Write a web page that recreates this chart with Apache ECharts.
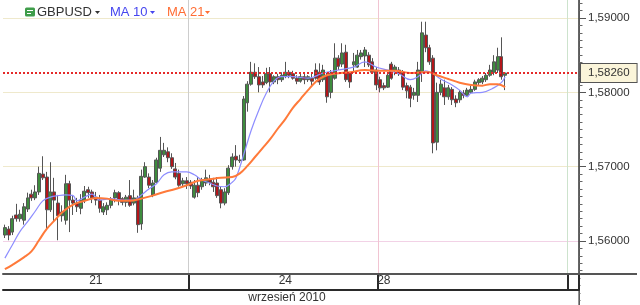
<!DOCTYPE html>
<html><head><meta charset="utf-8">
<script src="https://cdn.jsdelivr.net/npm/echarts/dist/echarts.min.js"></script>
<style>html,body{margin:0;padding:0;background:#fff}#c{width:640px;height:305px}</style>
</head><body><div id="c"></div>
<script>
// ---- data ----
const seriesNames = ['GBPUSD', 'MA 10', 'MA 21'];
// [open, close, low, high]
const ohlc = [
[1.5608,1.5618,1.5604,1.5622],[1.5616,1.5608,1.5601,1.5620],[1.5612,1.5630,1.5608,1.5634],[1.5635,1.5630,1.5626,1.5650],
[1.5630,1.5636,1.5626,1.5642],[1.5628,1.5646,1.5622,1.5651],[1.5643,1.5658,1.5639,1.5665],[1.5663,1.5658,1.5654,1.5669],
[1.5658,1.5666,1.5655,1.5675],[1.5666,1.5691,1.5662,1.5700],[1.5690,1.5685,1.5682,1.5714],[1.5686,1.5642,1.5615,1.5693],
[1.5642,1.5666,1.5639,1.5706],[1.5666,1.5655,1.5626,1.5685],[1.5651,1.5634,1.5601,1.5662],[1.5634,1.5639,1.5626,1.5648],
[1.5628,1.5677,1.5622,1.5689],[1.5677,1.5655,1.5612,1.5681],[1.5655,1.5651,1.5635,1.5662],[1.5651,1.5646,1.5639,1.5658],
[1.5644,1.5655,1.5636,1.5663],[1.5654,1.5667,1.5651,1.5674],[1.5669,1.5665,1.5658,1.5673],[1.5666,1.5658,1.5651,1.5669],
[1.5659,1.5655,1.5648,1.5666],[1.5655,1.5644,1.5638,1.5662],[1.5639,1.5646,1.5635,1.5651],[1.5642,1.5648,1.5635,1.5652],
[1.5648,1.5655,1.5644,1.5659],[1.5658,1.5665,1.5652,1.5669],[1.5665,1.5655,1.5648,1.5667],[1.5657,1.5652,1.5648,1.5659],
[1.5652,1.5659,1.5646,1.5662],[1.5661,1.5648,1.5646,1.5682],[1.5651,1.5658,1.5648,1.5669],[1.5658,1.5622,1.5611,1.5661],
[1.5623,1.5687,1.5615,1.5696],[1.5686,1.5700,1.5685,1.5706],[1.5686,1.5675,1.5671,1.5691],[1.5662,1.5678,1.5659,1.5682],
[1.5679,1.5709,1.5678,1.5712],[1.5698,1.5722,1.5693,1.5740],[1.5716,1.5722,1.5713,1.5732],[1.5720,1.5712,1.5706,1.5726],
[1.5712,1.5700,1.5697,1.5718],[1.5697,1.5686,1.5683,1.5705],[1.5691,1.5675,1.5673,1.5696],[1.5677,1.5681,1.5674,1.5685],
[1.5681,1.5677,1.5670,1.5686],[1.5679,1.5674,1.5670,1.5682],[1.5659,1.5675,1.5657,1.5682],[1.5675,1.5665,1.5659,1.5686],
[1.5673,1.5682,1.5669,1.5685],[1.5678,1.5685,1.5674,1.5696],[1.5683,1.5679,1.5675,1.5689],[1.5679,1.5673,1.5666,1.5685],
[1.5678,1.5661,1.5658,1.5686],[1.5669,1.5651,1.5644,1.5673],[1.5651,1.5666,1.5648,1.5671],[1.5665,1.5698,1.5662,1.5702],
[1.5700,1.5713,1.5696,1.5718],[1.5714,1.5709,1.5700,1.5729],[1.5708,1.5709,1.5705,1.5716],[1.5709,1.5791,1.5708,1.5795],
[1.5786,1.5811,1.5774,1.5815],[1.5811,1.5827,1.5809,1.5841],[1.5827,1.5821,1.5818,1.5839],[1.5821,1.5810,1.5800,1.5834],
[1.5814,1.5810,1.5806,1.5822],[1.5813,1.5825,1.5811,1.5833],[1.5825,1.5814,1.5800,1.5834],[1.5814,1.5821,1.5811,1.5823],
[1.5821,1.5817,1.5811,1.5825],[1.5817,1.5823,1.5814,1.5827],[1.5822,1.5827,1.5819,1.5841],[1.5827,1.5823,1.5819,1.5830],
[1.5825,1.5819,1.5817,1.5829],[1.5819,1.5815,1.5811,1.5823],[1.5815,1.5821,1.5813,1.5825],[1.5821,1.5817,1.5811,1.5825],
[1.5817,1.5821,1.5814,1.5823],[1.5819,1.5815,1.5809,1.5825],[1.5830,1.5819,1.5817,1.5839],[1.5827,1.5814,1.5810,1.5839],
[1.5817,1.5830,1.5814,1.5837],[1.5823,1.5794,1.5786,1.5826],[1.5800,1.5826,1.5792,1.5830],[1.5819,1.5846,1.5817,1.5866],
[1.5846,1.5835,1.5830,1.5850],[1.5838,1.5853,1.5834,1.5866],[1.5854,1.5817,1.5814,1.5864],[1.5826,1.5814,1.5806,1.5827],
[1.5837,1.5841,1.5826,1.5853],[1.5834,1.5850,1.5833,1.5857],[1.5848,1.5853,1.5844,1.5857],[1.5849,1.5857,1.5834,1.5861],
[1.5850,1.5837,1.5834,1.5854],[1.5841,1.5827,1.5826,1.5846],[1.5830,1.5810,1.5803,1.5834],[1.5817,1.5806,1.5800,1.5821],
[1.5809,1.5806,1.5803,1.5813],[1.5807,1.5823,1.5806,1.5826],[1.5838,1.5819,1.5817,1.5841],[1.5830,1.5834,1.5823,1.5837],
[1.5830,1.5825,1.5822,1.5834],[1.5827,1.5807,1.5803,1.5830],[1.5809,1.5802,1.5792,1.5813],[1.5807,1.5792,1.5780,1.5810],
[1.5796,1.5800,1.5790,1.5806],[1.5796,1.5830,1.5787,1.5841],[1.5827,1.5880,1.5814,1.5895],[1.5877,1.5860,1.5854,1.5895],
[1.5860,1.5841,1.5837,1.5864],[1.5846,1.5732,1.5718,1.5850],[1.5733,1.5800,1.5722,1.5813],[1.5800,1.5811,1.5796,1.5817],
[1.5806,1.5794,1.5783,1.5817],[1.5794,1.5806,1.5790,1.5810],[1.5804,1.5790,1.5783,1.5807],[1.5791,1.5786,1.5780,1.5796],
[1.5790,1.5800,1.5786,1.5803],[1.5799,1.5796,1.5792,1.5803],[1.5796,1.5803,1.5794,1.5806],[1.5800,1.5804,1.5798,1.5809],
[1.5804,1.5814,1.5802,1.5817],[1.5813,1.5817,1.5809,1.5819],[1.5814,1.5819,1.5811,1.5822],[1.5817,1.5823,1.5814,1.5826],
[1.5823,1.5830,1.5821,1.5837],[1.5827,1.5841,1.5823,1.5850],[1.5830,1.5848,1.5826,1.5860],[1.5848,1.5821,1.5817,1.5874],
[1.5823,1.5826,1.5803,1.5827]
];
// moving averages: [candle index, value]
const ma10 = [[0,1.5577],[2,1.5595],[4,1.5613],[6,1.5626],[8,1.5640],[10,1.5654],[12,1.5659],[14,1.5661],[16,1.5662],[18,1.5661],[19,1.5654],[21,1.5659],[23,1.5663],[25,1.5655],[28,1.5657],[31,1.5655],[34,1.5655],[36,1.5662],[38,1.5670],[40,1.5677],[42,1.5689],[44,1.5693],[46,1.5693],[48,1.5693],[50,1.5689],[52,1.5682],[54,1.5678],[56,1.5674],[58,1.5673],[60,1.5679],[61,1.5685],[63,1.5716],[65,1.5749],[67,1.5776],[69,1.5799],[71,1.5815],[73,1.5821],[76,1.5821],[80,1.5819],[84,1.5826],[88,1.5830],[92,1.5834],[95,1.5841],[98,1.5834],[101,1.5830],[104,1.5825],[107,1.5817],[109,1.5821],[111,1.5829],[113,1.5825],[115,1.5818],[118,1.5810],[120,1.5803],[122,1.5794],[123,1.5799],[126,1.5800],[129,1.5806],[131,1.5813],[132,1.5821]];
const ma21 = [[0,1.5562],[2,1.5568],[5,1.5578],[7,1.5586],[9,1.5601],[11,1.5616],[13,1.5627],[15,1.5638],[17,1.5646],[19,1.5651],[21,1.5654],[24,1.5658],[27,1.5657],[30,1.5654],[33,1.5654],[36,1.5657],[39,1.5661],[42,1.5666],[45,1.5670],[48,1.5675],[51,1.5681],[54,1.5683],[57,1.5685],[60,1.5686],[62,1.5691],[64,1.5701],[66,1.5713],[68,1.5725],[70,1.5737],[72,1.5751],[74,1.5764],[76,1.5779],[78,1.5791],[80,1.5803],[82,1.5814],[84,1.5821],[87,1.5825],[91,1.5827],[95,1.5830],[99,1.5829],[103,1.5829],[107,1.5826],[110,1.5827],[112,1.5827],[114,1.5823],[117,1.5818],[120,1.5813],[123,1.5810],[126,1.5809],[128,1.5811],[130,1.5811],[132,1.5807]];
const lastPrice = 1.5826;
const yMin = 1.55, yMax = 1.60, yStep = 0.01;
const dayLabels = ['21', '24', '28'];
const dayStarts = [0, 49, 99, 149];   // candle slot where each day cell starts
const monthLabel = 'wrzesień 2010';
const slotCount = 152;
const categories = Array.from({length: slotCount}, (_, i) => String(i));

// ---- chart ----
const font = '"Liberation Sans", Arial, sans-serif';
const fmt = v => v.toFixed(5).replace('.', ',');
const bounds = dayStarts.slice(1);
const labelIdx = dayLabels.map((d, i) => {
  const s = dayStarts[i], e = dayStarts[i + 1];
  return i < dayLabels.length - 1 ? Math.floor((s + e) / 2) : s + 1;
});
const chart = echarts.init(document.getElementById('c'));
const PX = 74.333; // pixels per 0.01
chart.setOption({
  animation: false,
  backgroundColor: '#ffffff',
  grid: [
    {left: 3, right: 61, top: 18 - PX, height: PX * 5, outerBoundsMode: 'none', containLabel: false},
    {left: 3, right: 61, top: 274, height: 16, outerBoundsMode: 'none', containLabel: false}
  ],
  xAxis: [
    {gridIndex: 0, type: 'category', data: categories, boundaryGap: true,
     axisLine: {show: false}, axisTick: {show: false}, axisLabel: {show: false},
     splitLine: {show: true, interval: (i) => bounds.includes(i),
       lineStyle: {color: ['#cdcdcd', '#f1c4d2', '#cde3cd'], width: 1}}},
    {gridIndex: 1, type: 'category', data: categories, boundaryGap: true, position: 'bottom', z: 60,
     axisLine: {show: true, lineStyle: {color: '#2a2a2a', width: 2}},
     axisTick: {show: false},
     axisLabel: {show: true, inside: true, margin: 3, interval: (i) => labelIdx.includes(i),
       formatter: (v, i) => { const k = labelIdx.indexOf(Number(v)); return k >= 0 ? dayLabels[k] : ''; },
       color: '#333', fontSize: 12, fontFamily: font},
     splitLine: {show: true, interval: (i) => bounds.includes(i), lineStyle: {color: '#2a2a2a', width: 2}}},
    {gridIndex: 1, type: 'category', data: categories, position: 'top', z: 60,
     axisLine: {show: true, lineStyle: {color: '#555', width: 2}},
     axisTick: {show: false}, axisLabel: {show: false}, splitLine: {show: false}}
  ],
  yAxis: [
    {gridIndex: 0, type: 'value', position: 'right', min: yMin, max: yMax, interval: yStep, scale: true,
     axisLine: {show: true, lineStyle: {color: '#333', width: 1.5}},
     axisTick: {show: true, length: 7, lineStyle: {color: '#555'}},
     minorTick: {show: true, splitNumber: 10, length: 3.5, lineStyle: {color: '#666'}},
     axisLabel: {margin: 9, color: '#333', fontSize: 11.5, fontFamily: font, formatter: fmt, hideOverlap: false},
     splitLine: {show: true, lineStyle: {color: ['#ffffff', '#f2d2e6', '#efe9cc', '#efe9cc', '#efe9cc', '#ffffff'], width: 1}}},
    {gridIndex: 1, type: 'value', show: false}
  ],
  graphic: {elements: [
    {type: 'rect', z: 50, silent: true, shape: {x: 0, y: 275, width: 578.3, height: 30}, style: {fill: '#fff'}},
    {type: 'rect', z: 50, silent: true, shape: {x: 580.5, y: 275, width: 60, height: 30}, style: {fill: '#fff'}},
    {type: 'line', z: 61, silent: true, shape: {x1: 579, y1: 274, x2: 637, y2: 274}, style: {stroke: '#555', lineWidth: 2}},
    {type: 'text', z: 70, style: {text: monthLabel, x: 287, y: 298, align: 'center', verticalAlign: 'middle', font: '12px ' + font, fill: '#333'}},
    {type: 'rect', z: 70, shape: {x: 25, y: 7.5, width: 10, height: 9, r: 1.5}, style: {fill: '#3f9d4a'}},
    {type: 'line', z: 71, shape: {x1: 27, y1: 10.5, x2: 33, y2: 10.5}, style: {stroke: '#fff', lineWidth: 1}},
    {type: 'line', z: 71, shape: {x1: 27, y1: 13.5, x2: 31, y2: 13.5}, style: {stroke: '#fff', lineWidth: 1}},
    {type: 'text', z: 70, style: {text: seriesNames[0], x: 37, y: 12.5, verticalAlign: 'middle', font: '13px ' + font, fill: '#333'}},
    {type: 'polygon', z: 70, shape: {points: [[95, 11], [100, 11], [97.5, 14]]}, style: {fill: '#333'}},
    {type: 'text', z: 70, style: {text: seriesNames[1], x: 110, y: 12.5, verticalAlign: 'middle', font: '13px ' + font, fill: '#4646ef'}},
    {type: 'polygon', z: 70, shape: {points: [[150, 11], [155, 11], [152.5, 14]]}, style: {fill: '#4646ef'}},
    {type: 'text', z: 70, style: {text: seriesNames[2], x: 167, y: 12.5, verticalAlign: 'middle', font: '13px ' + font, fill: '#ff6d33'}},
    {type: 'polygon', z: 70, shape: {points: [[205, 11], [210, 11], [207.5, 14]]}, style: {fill: '#ff6d33'}}
  ]},
  series: [
    {name: seriesNames[0], type: 'candlestick', xAxisIndex: 0, yAxisIndex: 0, data: ohlc, barWidth: 3.5,
     itemStyle: {color: '#3e8c3e', color0: '#b3161a', borderColor: '#555555', borderColor0: '#555555', borderWidth: 1},
     markLine: {symbol: 'none', silent: true, animation: false, precision: 5, data: [{yAxis: lastPrice}],
       lineStyle: {color: '#e52a2a', type: [2, 2], width: 2},
       label: {show: true, position: 'end', distance: 2, formatter: () => fmt(lastPrice),
         backgroundColor: '#fbf5da', borderColor: '#555', borderWidth: 1, padding: [3, 7, 3, 7],
         color: '#333', fontSize: 11.5, fontFamily: font}}},
    {name: seriesNames[1], type: 'line', xAxisIndex: 0, yAxisIndex: 0, data: ma10, smooth: 0.4, symbol: 'none',
     lineStyle: {color: '#8d8dff', width: 1.2}, z: 3},
    {name: seriesNames[2], type: 'line', xAxisIndex: 0, yAxisIndex: 0, data: ma21, smooth: 0.4, symbol: 'none',
     lineStyle: {color: '#ff7a3a', width: 2}, z: 4}
  ]
});
</script></body></html>
